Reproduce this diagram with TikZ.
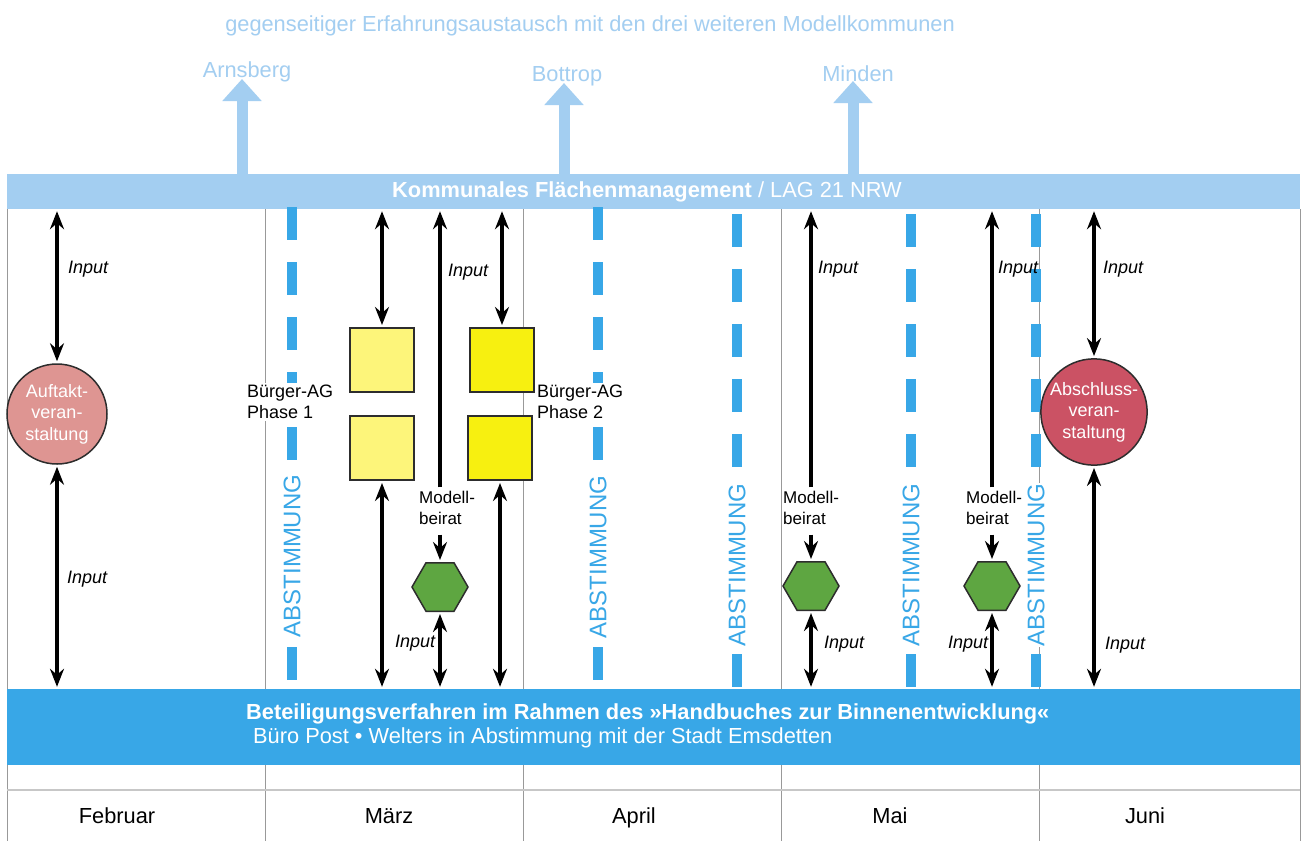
\documentclass[tikz,border=0pt]{standalone}
\usepackage{fontspec}
\setmainfont{Liberation Sans}
\usetikzlibrary{arrows.meta,shapes.geometric}
\definecolor{hellblau}{RGB}{163,206,241}
\definecolor{blau}{RGB}{56,167,231}
\definecolor{rosa}{RGB}{222,149,146}
\definecolor{weinrot}{RGB}{203,82,100}
\definecolor{hellgelb}{RGB}{253,245,122}
\definecolor{gelb}{RGB}{247,240,16}
\definecolor{gruen}{RGB}{94,166,65}
\definecolor{rand}{RGB}{45,45,45}
\tikzset{
	>={Stealth[length=18pt,width=14pt,inset=6pt]},
	gross/.style={inner sep=0pt, font=\fontsize{21.8}{26}\selectfont},
	mittel/.style={inner sep=2pt, align=left, anchor=west, font=\fontsize{18}{21}\selectfont},
	klein/.style={inner sep=2pt, align=left, anchor=west, font=\fontsize{17}{20.5}\selectfont},
	inp/.style={inner sep=0pt, anchor=base west, font=\fontsize{18}{21}\selectfont\itshape},
	monat/.style={draw=black!40, line width=1pt},
	balken/.style={rectangle, inner sep=0pt, minimum width=1293pt},
	pfeil/.style={line width=3.4pt, shorten <=2pt, shorten >=2pt},
	abst/.style={blau, line width=10pt, dash pattern=on 33pt off 22pt},
	abstxt/.style={rotate=90, fill=white, inner sep=1pt, text=blau, font=\fontsize{24}{28}\selectfont},
	treffen/.style={circle, draw=rand, line width=1.5pt, minimum size=100pt, inner sep=0pt, align=center, text=white, font=\fontsize{18}{21.5}\selectfont},
	ag/.style={rectangle, draw=rand, line width=2pt, minimum size=64pt, inner sep=0pt},
	beirat/.style={regular polygon, regular polygon sides=6, draw=rand, line width=1.5pt, fill=gruen, minimum size=56pt, inner sep=0pt},
	komm/.style={hellblau, line width=11pt, -{Triangle[width=38pt,length=22pt]}},
}

\begin{document}
\begin{tikzpicture}[x=1pt,y=-1pt]
	%%%%% START %%%%%
	
	\fill[white] (0,0) rectangle (1305,841);
	
	% Monate
	\draw[monat] (7,209) -- (7,841);
	\draw[monat] (265,209) -- (265,841);
	\draw[monat] (523,209) -- (523,841);
	\draw[monat] (781,209) -- (781,841);
	\draw[monat] (1039,209) -- (1039,841);
	\draw[monat] (1300,209) -- (1300,841);
	\draw[draw=black!22, line width=2pt] (7,790) -- (1300,790);
	
	\node[gross, anchor=base] (feb) at (117,823) {Februar};
	\node[gross, anchor=base] (mar) at (389,823) {März};
	\node[gross, anchor=base] (apr) at (634,823) {April};
	\node[gross, anchor=base] (mai) at (890,823) {Mai};
	\node[gross, anchor=base] (jun) at (1145,823) {Juni};
	
	% Balken
	\node[balken, fill=hellblau, minimum height=35pt] (kfm) at (653.5,191.5) {};
	\node[gross, anchor=base, text=white] (kfmtxt) at (647,197) {\textbf{Kommunales Flächenmanagement} / LAG 21 NRW};
	\node[balken, fill=blau, minimum height=76pt] (bv) at (653.5,727) {};
	\node[gross, anchor=base west, text=white] (bvtxt) at (246,719) {\textbf{Beteiligungsverfahren im Rahmen des »Handbuches zur Binnenentwicklung«}};
	\node[gross, anchor=base west, text=white] (bvsub) at (253,743) {Büro Post • Welters in Abstimmung mit der Stadt Emsdetten};
	
	% Modellkommunen
	\node[gross, anchor=base, text=hellblau] (titel) at (590,31) {gegenseitiger Erfahrungsaustausch mit den drei weiteren Modellkommunen};
	\node[gross, anchor=base, text=hellblau] (arn) at (247,77) {Arnsberg};
	\node[gross, anchor=base, text=hellblau] (bot) at (567,81) {Bottrop};
	\node[gross, anchor=base, text=hellblau] (mind) at (858,81.5) {Minden};
	\coordinate (arnspitze) at (242,79);
	\coordinate (botspitze) at (564,83);
	\coordinate (mindspitze) at (853,81);
	\draw[komm] (arnspitze |- kfm.north) -- (arnspitze);
	\draw[komm] (botspitze |- kfm.north) -- (botspitze);
	\draw[komm] (mindspitze |- kfm.north) -- (mindspitze);
	
	% Abstimmung
	\draw[abst] (292,207) -- (292,683);
	\draw[abst] (598,207) -- (598,683);
	\draw[abst] (737,214) -- (737,689);
	\draw[abst] (911,214) -- (911,689);
	\draw[abst] (1036,214) -- (1036,689);
	\node[abstxt] (ab1) at (292,556) {ABSTIMMUNG};
	\node[abstxt] (ab2) at (598,557) {ABSTIMMUNG};
	\node[abstxt] (ab3) at (737,565) {ABSTIMMUNG};
	\node[abstxt] (ab4) at (911,565) {ABSTIMMUNG};
	\node[abstxt] (ab5) at (1036,565) {ABSTIMMUNG};
	
	% Februar
	\node[treffen, fill=rosa] (auftakt) at (57,414) {Auftakt-\\veran-\\staltung};
	\draw[pfeil, <->] (auftakt.north) -- (auftakt.north |- kfm.south);
	\draw[pfeil, <->] (auftakt.south) -- (auftakt.south |- bv.north);
	\node[inp] (in1) at (68,273) {Input};
	\node[inp] (in2) at (67,583) {Input};
	
	% Maerz
	\node[mittel, fill=white] (ag1txt) at (245,402) {Bürger-AG\\Phase 1};
	\node[mittel, fill=white] (ag2txt) at (535,402) {Bürger-AG\\Phase 2};
	\node[ag, fill=hellgelb] (sq1) at (382,360) {};
	\node[ag, fill=hellgelb] (sq2) at (382,448) {};
	\node[ag, fill=gelb] (sq3) at (502,360) {};
	\node[ag, fill=gelb] (sq4) at (500,448) {};
	\draw[pfeil, <->] (sq1.north) -- (sq1.north |- kfm.south);
	\draw[pfeil, <->] (sq2.south) -- (sq2.south |- bv.north);
	\draw[pfeil, <->] (sq3.north) -- (sq3.north |- kfm.south);
	\draw[pfeil, <->] (sq4.south) -- (sq4.south |- bv.north);
	
	\node[klein] (mb1) at (417,508) {Modell-\\beirat};
	\node[beirat] (hx1) at (440,587) {};
	\draw[pfeil, ->] (hx1 |- mb1.north) -- (hx1 |- kfm.south);
	\draw[pfeil, ->, shorten <=8pt] (hx1 |- mb1.south) -- (hx1.north);
	\draw[pfeil, <->] (hx1.south) -- (hx1.south |- bv.north);
	\node[inp] (in3) at (448,276) {Input};
	\node[inp] (in4) at (395,647) {Input};
	
	% Mai
	\node[klein] (mb2) at (781,508) {Modell-\\beirat};
	\node[beirat] (hx2) at (811,586) {};
	\draw[pfeil, ->] (hx2 |- mb2.north) -- (hx2 |- kfm.south);
	\draw[pfeil, ->, shorten <=8pt] (hx2 |- mb2.south) -- (hx2.north);
	\draw[pfeil, <->] (hx2.south) -- (hx2.south |- bv.north);
	\node[inp] (in5) at (818,273) {Input};
	\node[inp] (in6) at (824,648) {Input};
	
	\node[klein] (mb3) at (964,508) {Modell-\\beirat};
	\node[beirat] (hx3) at (992,586) {};
	\draw[pfeil, ->] (hx3 |- mb3.north) -- (hx3 |- kfm.south);
	\draw[pfeil, ->, shorten <=8pt] (hx3 |- mb3.south) -- (hx3.north);
	\draw[pfeil, <->] (hx3.south) -- (hx3.south |- bv.north);
	\node[inp] (in7) at (998,273) {Input};
	\node[inp] (in8) at (948,648) {Input};
	
	% Juni
	\node[treffen, fill=weinrot] (abschluss) at (1094,412) {Abschluss-\\veran-\\staltung};
	\draw[pfeil, <->] (abschluss.north) -- (abschluss.north |- kfm.south);
	\draw[pfeil, <->] (abschluss.south) -- (abschluss.south |- bv.north);
	\node[inp] (in9) at (1103,273.5) {Input};
	\node[inp] (in10) at (1105,649) {Input};
	
	%%%%% END %%%%%
\end{tikzpicture}
\end{document}
